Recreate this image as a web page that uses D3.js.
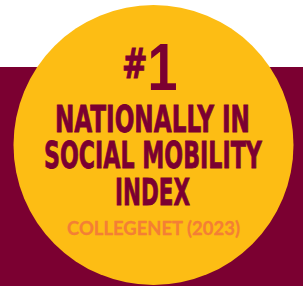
<!DOCTYPE html>
<html>
<head>
<meta charset="utf-8">
<script src="https://cdn.jsdelivr.net/npm/d3@7"></script>
<style>
  html, body { margin: 0; padding: 0; background: #fff; }
  svg { display: block; }
</style>
</head>
<body>
<svg id="badge" width="303" height="286"></svg>
<script>
// 文字内容
const rankHash = "#";
const rankNum = "1";
const titleLines = ["NATIONALLY IN", "SOCIAL MOBILITY", "INDEX"];
const sourceLine = "COLLEGENET (2023)";

const W = 303, H = 286;
const maroon = "#7b0031", gold = "#fdbd14", orange = "#f47f35";

const svg = d3.select("#badge");

// 底部酒红色带
svg.append("rect")
    .attr("x", 0).attr("y", 67)
    .attr("width", W).attr("height", H - 67)
    .attr("fill", maroon);

// 黄色圆
svg.append("circle")
    .attr("cx", 153.5).attr("cy", 145)
    .attr("r", 140)
    .attr("fill", gold);

const cond = "'DejaVu Sans Condensed', 'DejaVu Sans', sans-serif";

// 先按字号排版，再横向缩放到目标宽度
function fitText(sel, x, y, w) {
    const w0 = sel.node().getComputedTextLength();
    sel.attr("transform", `translate(${x},${y}) scale(${w / w0},1)`);
    return sel;
}

// #1
fitText(svg.append("text")
    .text(rankHash)
    .style("font-family", cond).style("font-weight", "bold")
    .style("font-size", "41px").style("fill", maroon)
    .style("stroke", maroon).style("stroke-width", 1), 122, 78, 25.5);
fitText(svg.append("text")
    .text(rankNum)
    .style("font-family", "'Liberation Sans', Arial, sans-serif").style("font-weight", "bold")
    .style("font-size", "67px").style("fill", maroon), 147.5, 90, 30);

// 标题三行
const lineBox = [
    { x: 55, w: 195, y: 132 },
    { x: 44, w: 218, y: 168 },
    { x: 115, w: 75, y: 205 }
];
svg.selectAll("text.title")
    .data(titleLines)
    .join("text")
    .classed("title", true)
    .text(d => d)
    .style("font-family", cond).style("font-weight", "bold")
    .style("font-size", "37px").style("fill", maroon)
    .style("stroke", maroon).style("stroke-width", 0.8)
    .each(function (d, i) {
        fitText(d3.select(this), lineBox[i].x, lineBox[i].y, lineBox[i].w);
    });

// 来源
fitText(svg.append("text")
    .text(sourceLine)
    .style("font-family", "Lato, 'Open Sans', sans-serif").style("font-weight", "bold")
    .style("font-size", "19px").style("fill", orange)
    .style("stroke", orange).style("stroke-width", 0.3), 67, 235, 173);
</script>
</body>
</html>
